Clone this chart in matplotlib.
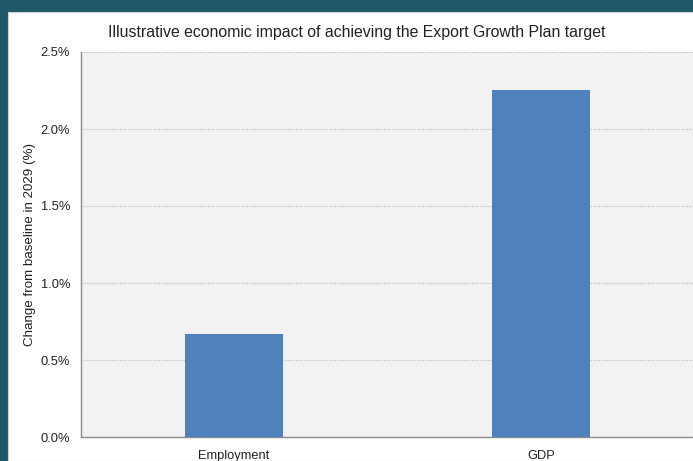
import matplotlib
matplotlib.use("Agg")
import matplotlib.pyplot as plt
from matplotlib.patches import Rectangle
from matplotlib.ticker import FuncFormatter

categories = ['Employment', 'GDP']
impact = [0.67, 2.25]
y_ticks = [0.0, 0.5, 1.0, 1.5, 2.0, 2.5]

plt.rcParams['font.family'] = ['Liberation Sans', 'DejaVu Sans']

W, H = 693, 461
fig = plt.figure(figsize=(W / 100, H / 100), dpi=100, facecolor='#1f5868')

# white panel inside the teal frame
fig.patches.append(Rectangle((8 / W, 0), 1, (H - 12) / H, transform=fig.transFigure,
                             facecolor='white', edgecolor='#d0d0d0', lw=0.8, zorder=-5))

ax = fig.add_axes([80.5 / W, (H - 437) / H, 614 / W, 385 / H])
ax.set_facecolor('#f2f2f2')

ax.bar(range(len(categories)), impact, width=0.316, color='#4f81bd', zorder=3)

ax.set_xlim(-0.5, 1.5)
ax.set_ylim(0, 2.5)
ax.set_yticks(y_ticks)
ax.yaxis.set_major_formatter(FuncFormatter(lambda v, p: f'{v:.1f}%'))
ax.set_xticks(range(len(categories)))
ax.set_xticklabels(categories)
ax.tick_params(axis='both', length=0, labelsize=9.3, colors='#222222')
ax.tick_params(axis='y', pad=7.5)
ax.tick_params(axis='x', pad=9)

ax.grid(axis='y', color='#c4c4c4', linestyle=(0, (1.2, 1)), linewidth=0.9, zorder=1)
for s in ['top', 'right']:
    ax.spines[s].set_visible(False)
for s in ['left', 'bottom']:
    ax.spines[s].set_color('#8c8c8c')
    ax.spines[s].set_linewidth(1)

ax.set_ylabel('Change from baseline in 2029 (%)', fontsize=9.6, color='#222222')
ax.yaxis.set_label_coords(-44 / 614, (437 - 244) / 385)

fig.text(357 / W, 1 - 32 / H, 'Illustrative economic impact of achieving the Export Growth Plan target',
         ha='center', va='center', fontsize=11.4, color='#222222')

fig.savefig('out.png', dpi=100, facecolor=fig.get_facecolor())
